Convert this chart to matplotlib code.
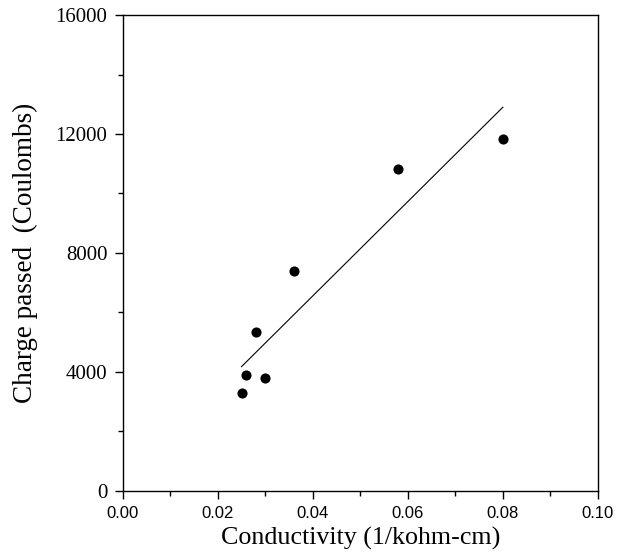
import matplotlib
matplotlib.use("Agg")
import matplotlib.pyplot as plt
from matplotlib.ticker import MultipleLocator

# conductivity (1/kohm-cm) vs charge passed (Coulombs)
conductivity = [0.025, 0.026, 0.028, 0.030, 0.036, 0.058, 0.080]
charge = [3280, 3900, 5340, 3800, 7400, 10830, 11840]

# fitted line end points
fit_x = [0.025, 0.080]
fit_y = [4180, 12900]

fig = plt.figure(figsize=(6.17, 5.56), dpi=100)
ax = fig.add_axes([0.199, 0.117, 0.770, 0.856])

ax.plot(fit_x, fit_y, color="black", lw=0.8)
ax.plot(conductivity, charge, "o", color="black", ms=7.3, mec="none")

ax.set_xlim(0, 0.10)
ax.set_ylim(0, 16000)
ax.xaxis.set_major_locator(MultipleLocator(0.02))
ax.xaxis.set_minor_locator(MultipleLocator(0.01))
ax.yaxis.set_major_locator(MultipleLocator(4000))
ax.yaxis.set_minor_locator(MultipleLocator(2000))
ax.set_xticklabels([f"{v:.2f}" for v in ax.get_xticks()])

ax.tick_params(which="major", direction="out", length=6, width=1, pad=5)
ax.tick_params(which="minor", direction="out", length=3.5, width=1)
ax.tick_params(top=False, right=False)
for lab in ax.get_xticklabels():
    lab.set_family("Liberation Sans")
    lab.set_fontsize(12)
for lab in ax.get_yticklabels():
    lab.set_family("Liberation Serif")
    lab.set_fontsize(15)
for sp in ax.spines.values():
    sp.set_linewidth(1)

ax.set_xlabel("Conductivity (1/kohm-cm)", family="Liberation Serif", fontsize=18.7, labelpad=4)
ax.set_ylabel("Charge passed  (Coulombs)", family="Liberation Serif", fontsize=19.5, labelpad=13)

plt.savefig("out.png", dpi=100)
